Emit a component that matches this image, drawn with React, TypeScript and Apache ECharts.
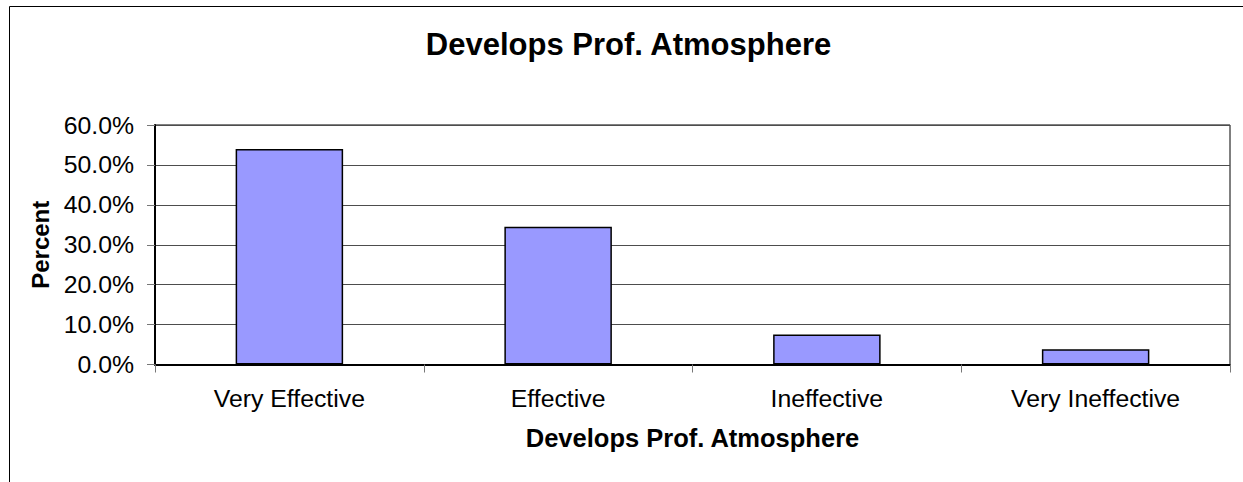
import React, { useEffect, useRef } from "react";
import * as echarts from "echarts";

const categories = ["Very Effective", "Effective", "Ineffective", "Very Ineffective"];
const percentValues = [54.0, 34.5, 7.5, 3.8];
const chartTitle = "Develops Prof. Atmosphere";
const xAxisTitle = "Develops Prof. Atmosphere";
const yAxisTitle = "Percent";

const FONT = '"Liberation Sans", Arial, sans-serif';

export default function App() {
  const ref = useRef<HTMLDivElement>(null);
  useEffect(() => {
    document.body.style.margin = "0";
    const chart = echarts.init(ref.current!, null, { renderer: "svg" });
    chart.setOption({
      animation: false,
      backgroundColor: "#ffffff",
      graphic: [
        {
          type: "rect",
          shape: { x: 9.5, y: 6.5, width: 1400, height: 600 },
          style: { fill: "none", stroke: "#000", lineWidth: 1 },
          silent: true,
          z: 0,
        },
        {
          type: "text",
          x: 628.5,
          y: 44,
          style: {
            text: chartTitle,
            font: `bold 31px ${FONT}`,
            fill: "#000",
            align: "center",
            verticalAlign: "middle",
            textAlign: "center",
            textVerticalAlign: "middle",
          },
        },
      ],
      grid: {
        left: 155,
        top: 125,
        right: 13,
        bottom: 117.5,
        show: true,
        borderColor: "#000",
        borderWidth: 1,
        containLabel: false,
      },
      xAxis: {
        type: "category",
        data: categories,
        name: xAxisTitle,
        nameLocation: "middle",
        nameGap: 60,
        nameTextStyle: { fontFamily: FONT, fontSize: 25.5, fontWeight: "bold", color: "#000" },
        axisLine: { lineStyle: { color: "#000", width: 2 } },
        axisTick: { show: true, length: 8, lineStyle: { color: "#777", width: 1 } },
        axisLabel: { fontFamily: FONT, fontSize: 24.8, color: "#000", margin: 21 },
      },
      yAxis: {
        type: "value",
        min: 0,
        max: 60,
        interval: 10,
        name: yAxisTitle,
        nameLocation: "middle",
        nameGap: 99,
        nameRotate: 90,
        nameTextStyle: { fontFamily: FONT, fontSize: 24, fontWeight: "bold", color: "#000" },
        axisLine: { show: true, lineStyle: { color: "#000", width: 2 } },
        axisTick: { show: true, length: 8, lineStyle: { color: "#777", width: 1 } },
        axisLabel: {
          fontFamily: FONT,
          fontSize: 24.8,
          color: "#000",
          margin: 21,
          formatter: (v: number) => v.toFixed(1) + "%",
        },
        splitLine: { show: true, lineStyle: { color: "#4d4d4d", width: 1 } },
      },
      series: [
        {
          type: "bar",
          data: percentValues,
          barCategoryGap: "60%",
          itemStyle: { color: "#9999FF", borderColor: "#000", borderWidth: 1.5 },
        },
      ],
    });
    return () => chart.dispose();
  }, []);
  return <div ref={ref} style={{ width: 1243, height: 482 }} />;
}
